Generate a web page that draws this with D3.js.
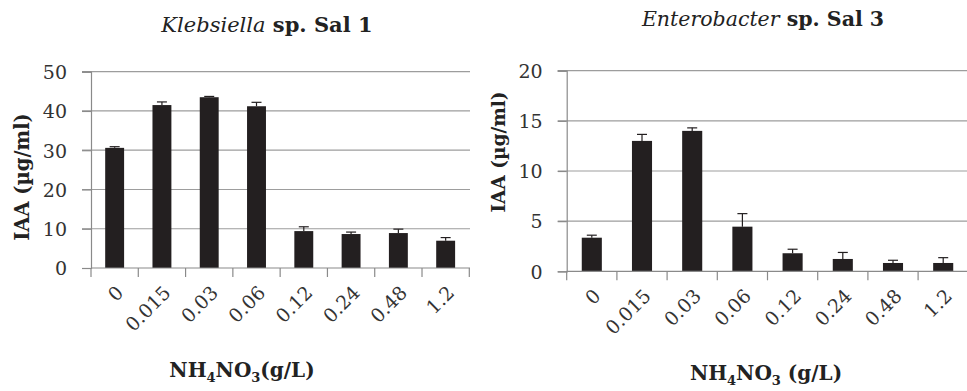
<!DOCTYPE html>
<html>
<head>
<meta charset="utf-8">
<script src="https://cdn.jsdelivr.net/npm/d3@7"></script>
<style>
  html, body { margin: 0; padding: 0; background: #fff; }
  svg { display: block; }
  text { font-family: "DejaVu Serif", "Liberation Serif", serif; }
</style>
</head>
<body>
<svg id="chart" width="967" height="391"></svg>
<script>
// NH4NO3 concentrations (g/L)
const categories = ["0", "0.015", "0.03", "0.06", "0.12", "0.24", "0.48", "1.2"];

// Klebsiella sp. Sal 1 — IAA (µg/ml), mean and standard error
const klebsiellaIAA = [30.6, 41.5, 43.5, 41.2, 9.4, 8.65, 8.9, 6.95];
const klebsiellaErr = [0.3, 0.8, 0.2, 1.0, 1.1, 0.5, 1.0, 0.8];
const klebsiellaTicks = [0, 10, 20, 30, 40, 50];

// Enterobacter sp. Sal 3 — IAA (µg/ml), mean and standard error
const enterobacterIAA = [3.35, 13.0, 14.0, 4.45, 1.8, 1.23, 0.83, 0.83];
const enterobacterErr = [0.25, 0.65, 0.3, 1.3, 0.4, 0.65, 0.27, 0.53];
const enterobacterTicks = [0, 5, 10, 15, 20];

const svg = d3.select("#chart");

function drawPanel(opt) {
  const g = svg.append("g");
  const x = d3.scaleBand().domain(categories).range([opt.left, opt.right]).paddingInner(0.6).paddingOuter(0.3);
  const xb = d3.scaleBand().domain(categories).range([opt.left, opt.right]);
  const y = d3.scaleLinear().domain([0, opt.max]).range([opt.bottom, opt.top]);

  // horizontal gridlines
  g.append("g").selectAll("line").data(opt.ticks.filter(t => t > 0)).join("line")
    .attr("x1", opt.left - 9).attr("x2", opt.gridRight)
    .attr("y1", d => y(d)).attr("y2", d => y(d))
    .attr("stroke", "#9d9d9d").attr("stroke-width", 1.2);

  // bars
  g.append("g").selectAll("rect").data(opt.values).join("rect")
    .attr("x", (d, i) => x(categories[i]))
    .attr("width", x.bandwidth())
    .attr("y", d => y(d))
    .attr("height", d => y(0) - y(d))
    .attr("fill", "#231f20");

  // error bars (upper only, capped)
  const eb = g.append("g").attr("stroke", "#231f20").attr("stroke-width", 1.2);
  opt.values.forEach((v, i) => {
    const cx = xb(categories[i]) + xb.bandwidth() / 2;
    const top = y(v + opt.errors[i]);
    eb.append("line").attr("x1", cx).attr("x2", cx).attr("y1", y(v)).attr("y2", top);
    eb.append("line").attr("x1", cx - 5).attr("x2", cx + 5).attr("y1", top).attr("y2", top);
  });

  // y axis
  const yAxis = g.append("g").attr("transform", `translate(${opt.left},0)`)
    .call(d3.axisLeft(y).tickValues(opt.ticks).tickSize(9).tickPadding(15));
  yAxis.select(".domain").attr("stroke", "#8a8a8a").attr("stroke-width", 1.2);
  yAxis.selectAll(".tick line").attr("stroke", "#8a8a8a").attr("stroke-width", 1.2);
  yAxis.selectAll(".tick text").attr("font-size", 19).attr("fill", "#333")
    .attr("font-family", "DejaVu Serif").attr("dy", "0.36em");

  // x axis: ticks at category boundaries
  const bounds = categories.map(c => xb(c)).concat([opt.right]);
  const xg = g.append("g");
  xg.append("line").attr("x1", opt.left).attr("x2", opt.gridRight)
    .attr("y1", opt.bottom).attr("y2", opt.bottom)
    .attr("stroke", "#8a8a8a").attr("stroke-width", 1.2);
  xg.selectAll("line.tk").data(bounds).join("line").attr("class", "tk")
    .attr("x1", d => d).attr("x2", d => d)
    .attr("y1", opt.bottom).attr("y2", opt.bottom + 9)
    .attr("stroke", "#8a8a8a").attr("stroke-width", 1.2);
  xg.selectAll("text").data(categories).join("text")
    .attr("transform", d => `translate(${xb(d) + xb.bandwidth() / 2 + 10},${opt.bottom + 26}) rotate(-45)`)
    .attr("text-anchor", "end")
    .attr("font-size", 19).attr("fill", "#333")
    .text(d => d);

  // title
  const t = g.append("text").attr("x", opt.titleX).attr("y", opt.titleY)
    .attr("text-anchor", "middle").attr("font-size", opt.titleSize)
    .attr("font-weight", "bold").attr("fill", "#222");
  t.append("tspan").attr("font-style", "italic").attr("font-weight", "normal").text(opt.genus);
  t.append("tspan").text(opt.rest);

  // y axis title
  g.append("text")
    .attr("transform", `translate(${opt.yTitleX},${opt.yTitleY}) rotate(-90)`)
    .attr("text-anchor", "middle").attr("font-size", opt.yTitleSize).attr("font-weight", "bold")
    .attr("fill", "#222").text("IAA (µg/ml)");

  // x axis title
  const xt = g.append("text").attr("x", opt.xTitleX).attr("y", opt.xTitleY)
    .attr("text-anchor", "middle").attr("font-size", 20).attr("font-weight", "bold")
    .attr("fill", "#222");
  xt.append("tspan").text("NH");
  xt.append("tspan").attr("font-size", 13).attr("dy", 5).text("4");
  xt.append("tspan").attr("dy", -5).text("NO");
  xt.append("tspan").attr("font-size", 13).attr("dy", 5).text("3");
  xt.append("tspan").attr("dy", -5).text(opt.xUnit);
}

drawPanel({
  left: 91, right: 469.3, gridRight: 470, top: 71.7, bottom: 268, max: 50,
  values: klebsiellaIAA, errors: klebsiellaErr, ticks: klebsiellaTicks,
  genus: "Klebsiella", rest: "  sp. Sal 1", titleX: 267, titleY: 32, titleSize: 21,
  yTitleX: 29, yTitleY: 177, yTitleSize: 19.5, xTitleX: 242, xTitleY: 377, xUnit: "(g/L)"
});

drawPanel({
  left: 566.7, right: 968.3, gridRight: 968, top: 70.7, bottom: 271.3, max: 20,
  values: enterobacterIAA, errors: enterobacterErr, ticks: enterobacterTicks,
  genus: "Enterobacter", rest: " sp. Sal 3", titleX: 763, titleY: 26, titleSize: 20.5,
  yTitleX: 505, yTitleY: 152, yTitleSize: 18.5, xTitleX: 766, xTitleY: 380, xUnit: " (g/L)"
});
</script>
</body>
</html>
